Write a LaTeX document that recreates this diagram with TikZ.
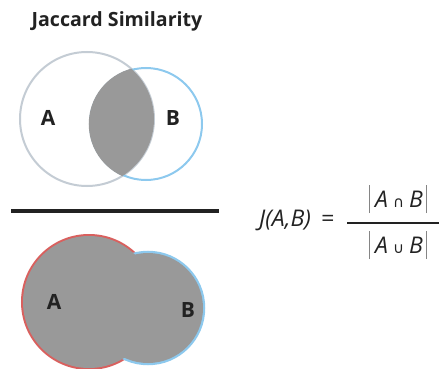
\documentclass[tikz,border=0pt]{standalone}
\usepackage{fontspec}
\setmainfont{Open Sans}
\newfontfamily\symfont{DejaVu Sans}
\usepackage{tikz}

\definecolor{ringA}{HTML}{C4CCD4}
\definecolor{ringB}{HTML}{8DC9EE}
\definecolor{ringR}{HTML}{D9605E}
\definecolor{share}{HTML}{999999}
\definecolor{ink}{HTML}{222222}

\newcommand{\absbar}{\textcolor{ink!55}{\rule[-6pt]{0.9pt}{28pt}}}

\begin{document}
\begin{tikzpicture}[x=1pt, y=-1pt, every node/.style={font=\fontsize{21}{24}\selectfont\bfseries, text=ink, inner sep=0pt},
	setlabel/.style={anchor=center},
	eqtext/.style={font=\fontsize{23}{26}\selectfont\itshape, text=ink, anchor=base}]
	\useasboundingbox (0,0) rectangle (439,369);
	\node (title) at (117,21) {\fontsize{19.6}{22}\selectfont Jaccard Similarity};
	% top: intersection
	\coordinate (ca) at (87,119);
	\coordinate (cb) at (146,124);
	\draw[ringA, line width=2pt, fill=white] (ca) circle[radius=67];
	\draw[ringB, line width=2pt] (cb) circle[radius=56];
	\begin{scope}
		\clip (ca) circle[radius=67];
		\draw[share, fill=share, line width=2.5pt] (cb) circle[radius=56];
	\end{scope}
	\node[setlabel] (la) at (48,118) {A};
	\node[setlabel] (lb) at (173,118) {B};
	\fill[ink] (11,209) rectangle (219,213);
	% bottom: union
	\coordinate (ua) at (89,302);
	\coordinate (ub) at (148,308);
	\draw[ringR, line width=4pt] (ua) circle[radius=66];
	\draw[ringB, line width=4.5pt] (ub) circle[radius=55];
	\fill[share] (ua) circle[radius=66] (ub) circle[radius=55];
	\node[setlabel] (ua lbl) at (54,302) {A};
	\node[setlabel] (ub lbl) at (188,310) {B};
	% formula
	\node[eqtext, anchor=base west] (eq) at (259,226) {J(A,B)\hspace{4pt} =};
	\node[eqtext] (num) at (398,207) {\absbar\hspace{5pt}A\hspace{5pt}{\upshape\symfont\fontsize{15}{16}\selectfont ∩}\hspace{5pt}B\hspace{3pt}\absbar};
	\node[eqtext] (den) at (398,253) {\absbar\hspace{5pt}A\hspace{5pt}{\upshape\symfont\fontsize{15}{16}\selectfont ∪}\hspace{5pt}B\hspace{3pt}\absbar};
	\draw[ink, line width=1.5pt] (347,223) -- (439,223);
\end{tikzpicture}
\end{document}
